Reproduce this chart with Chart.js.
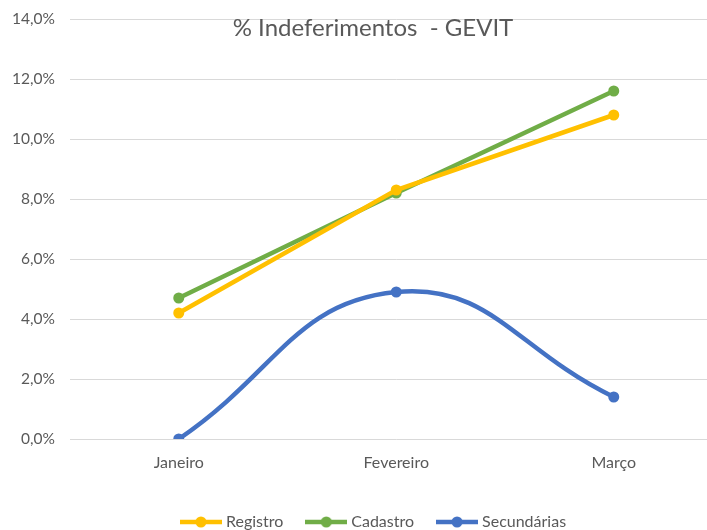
<!DOCTYPE html>
<html>
<head>
<meta charset="utf-8">
<script src="https://cdn.jsdelivr.net/npm/chart.js@4.4.0/dist/chart.umd.min.js"></script>
<style>
  html, body { margin: 0; padding: 0; background: #fff; overflow: hidden; }
  #wrap { width: 728px; height: 530px; }
</style>
</head>
<body>
<div id="wrap"><canvas id="myChart" width="728" height="530"></canvas></div>
<script>
const months = ["Janeiro", "Fevereiro", "Março"];
const registro = [4.2, 8.3, 10.8];
const cadastro = [4.7, 8.2, 11.6];
const secundarias = [0.0, 4.9, 1.4];
const titleText = "% Indeferimentos  - GEVIT";

const grey = "#595959";
const font = "Lato, 'Open Sans', sans-serif";

// little line+dot marker for the legend
const legendMarker = (color) => {
  const c = document.createElement("canvas");
  c.width = 42;
  c.height = 12;
  const g = c.getContext("2d");
  g.strokeStyle = color;
  g.lineWidth = 4.5;
  g.beginPath();
  g.moveTo(0, 6);
  g.lineTo(42, 6);
  g.stroke();
  g.fillStyle = color;
  g.beginPath();
  g.arc(21, 6, 5.5, 0, Math.PI * 2);
  g.fill();
  return c;
};

const titlePlugin = {
  id: "excelTitle",
  afterLayout: (chart) => {
    // legend sits a bit right of the canvas centre in the original
    chart.legend.left += 12;
    chart.legend.right += 12;
  },
  afterDraw: (chart) => {
    const ctx = chart.ctx;
    ctx.save();
    ctx.font = "24px " + font;
    ctx.fillStyle = grey;
    ctx.textAlign = "center";
    ctx.textBaseline = "middle";
    ctx.fillText(titleText, 373, 28);
    ctx.restore();
  },
};

const mkSet = (label, data, color, tension) => ({
  label: label,
  data: data,
  borderColor: color,
  backgroundColor: color,
  borderWidth: 4.5,
  pointRadius: 5.5,
  pointHoverRadius: 5.5,
  pointBorderWidth: 0,
  pointStyle: "circle",
  tension: tension,
});

const config = {
  type: "line",
  data: {
    labels: months,
    datasets: [
      mkSet("Registro", registro, "#FFC000", 0),
      mkSet("Cadastro", cadastro, "#70AD47", 0),
      mkSet("Secundárias", secundarias, "#4472C4", 0.45),
    ],
  },
  options: {
    responsive: false,
    animation: false,
    layout: { padding: { top: 19, right: 2, left: 0, bottom: -10 } },
    plugins: {
      title: { display: false },
      tooltip: { enabled: false },
      legend: {
        position: "bottom",
        labels: {
          usePointStyle: true,
          pointStyleWidth: 34,
          boxHeight: 12,
          color: grey,
          padding: 26,
          font: { family: font, size: 16 },
          generateLabels: (chart) =>
            chart.data.datasets.map((ds, i) => ({
              text: ds.label,
              fontColor: grey,
              pointStyle: legendMarker(ds.borderColor),
              datasetIndex: i,
              lineWidth: 0,
              strokeStyle: "transparent",
              fillStyle: ds.borderColor,
            })),
        },
      },
    },
    scales: {
      x: {
        offset: true,
        grid: { display: false },
        border: { display: false },
        ticks: { color: grey, font: { family: font, size: 16 }, padding: 6 },
        afterFit: (scale) => {
          scale.height = 49;
        },
      },
      y: {
        min: 0,
        max: 14,
        grid: { color: "#d9d9d9", lineWidth: 1, drawTicks: false },
        border: { display: false },
        ticks: {
          stepSize: 2,
          color: grey,
          padding: 15,
          font: { family: font, size: 15.5 },
          callback: (v) => v.toFixed(1).replace(".", ",") + "%",
        },
        afterFit: (scale) => {
          scale.width = 70;
          scale.paddingTop = 0;
          scale.paddingBottom = 0;
        },
      },
    },
  },
  plugins: [titlePlugin],
};

const ctx = document.getElementById("myChart").getContext("2d");
const myChart = new Chart(ctx, config);
</script>
</body>
</html>
